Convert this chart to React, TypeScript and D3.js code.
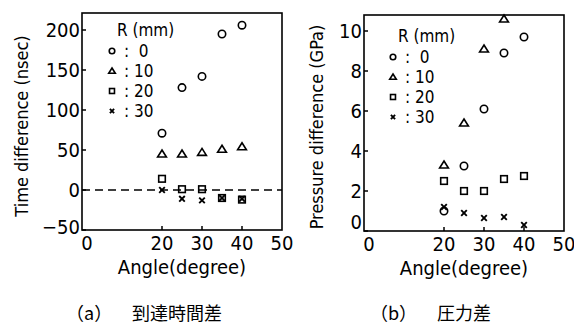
import * as d3 from "d3";

const angles = [20, 25, 30, 35, 40];
const xTicks = [0, 20, 30, 40, 50];

const timeR0 = [71, 128, 142, 195, 206];
const timeR10 = [45, 45, 47, 51, 54];
const timeR20 = [14, 1, 1, -10, -12];
const timeR30 = [0, -11, -13, -10, -11];
const timeTicks = [-50, 0, 50, 100, 150, 200];

const pressR0 = [1.0, 3.25, 6.1, 8.9, 9.7];
const pressR10 = [3.3, 5.4, 9.1, 10.6];
const pressR20 = [2.5, 2.0, 2.0, 2.6, 2.75];
const pressR30 = [1.2, 0.9, 0.65, 0.7, 0.3];
const pressTicks = [0, 2, 4, 6, 8, 10];

const radii = ["0", "10", "20", "30"];
const shapes = ["circle", "triangle", "square", "cross"] as const;

const FONT = "'DejaVu Sans Condensed', 'DejaVu Sans', sans-serif";

type Shape = (typeof shapes)[number];

function Marker({ shape, x, y, s = 1 }: { shape: Shape; x: number; y: number; s?: number }) {
  const common = { fill: "none", stroke: "#000", strokeWidth: 1.6 };
  if (shape === "circle") return <circle cx={x} cy={y} r={3.7 * s} {...common} />;
  if (shape === "triangle") {
    const h = 4 * s;
    return <path d={`M${x},${y - h}L${x + h * 1.1},${y + h * 0.75}L${x - h * 1.1},${y + h * 0.75}Z`} {...common} />;
  }
  if (shape === "square") {
    const h = 3.3 * s;
    return <rect x={x - h} y={y - h} width={2 * h} height={2 * h} {...common} />;
  }
  const h = 2.8 * s;
  return <path d={`M${x - h},${y - h}L${x + h},${y + h}M${x + h},${y - h}L${x - h},${y + h}`} {...common} strokeWidth={1.9} />;
}

interface PanelProps {
  left: number;
  right: number;
  top: number;
  bottom: number;
  yDomain: [number, number];
  pxPerUnit: number;
  yTicks: number[];
  series: number[][];
  title: string;
  titleX: number;
  titleY: number;
  legendX: number;
  legendY: number;
  zeroLine?: boolean;
  bottomLabelShift: number;
}

function Panel(p: PanelProps) {
  const x = d3.scaleLinear().domain([0, 50]).range([p.left, p.right]);
  const y = d3
    .scaleLinear()
    .domain(p.yDomain)
    .range([p.bottom, p.bottom - (p.yDomain[1] - p.yDomain[0]) * p.pxPerUnit]);
  return (
    <g fontFamily={FONT} fill="#000">
      <rect x={p.left} y={p.top} width={p.right - p.left} height={p.bottom - p.top} fill="none" stroke="#000" strokeWidth={1.6} />
      {p.yTicks.map((t, i) => (
        <g key={t}>
          <line x1={p.left} x2={p.left + 4} y1={y(t)} y2={y(t)} stroke="#000" strokeWidth={1.5} />
          <text
            x={p.left - 2}
            y={y(t) - (i === 0 ? p.bottomLabelShift : 0)}
            textAnchor="end"
            dominantBaseline="central"
            fontSize={20}
          >
            {t < 0 ? "\u2212" + Math.abs(t) : t}
          </text>
        </g>
      ))}
      {xTicks.map((t) => (
        <g key={t}>
          {t > 0 && t < 50 && <line x1={x(t)} x2={x(t)} y1={p.bottom} y2={p.bottom - 4} stroke="#000" strokeWidth={1.5} />}
          <text x={x(t) + (t === 0 ? 5 : 0)} y={p.bottom + 20} textAnchor="middle" fontSize={20}>
            {t}
          </text>
        </g>
      ))}
      {p.zeroLine && (
        <line x1={p.left} x2={p.right} y1={y(0)} y2={y(0)} stroke="#000" strokeWidth={1.5} strokeDasharray="8,5" />
      )}
      {p.series.map((vals, si) =>
        vals.map((v, i) => <Marker key={`${si}-${i}`} shape={shapes[si]} x={x(angles[i])} y={y(v)} />),
      )}
      <text x={(p.left + p.right) / 2} y={p.bottom + 44} textAnchor="middle" fontSize={20}>
        Angle(degree)
      </text>
      <text
        transform={`translate(${p.titleX},${p.titleY}) rotate(-90)`}
        textAnchor="middle"
        dominantBaseline="central"
        fontSize={18}
      >
        {p.title}
      </text>
      <text x={p.legendX + 5} y={p.legendY} dominantBaseline="central" fontSize={17}>
        R (mm)
      </text>
      {radii.map((r, i) => {
        const ly = p.legendY + 21 + i * 20;
        return (
          <g key={r}>
            <Marker shape={shapes[i]} x={p.legendX} y={ly} s={0.75} />
            <text x={p.legendX + 12} y={ly} dominantBaseline="central" fontSize={17} style={{ whiteSpace: "pre" }}>
              {r.length === 1 ? `:  ${r}` : `: ${r}`}
            </text>
          </g>
        );
      })}
    </g>
  );
}

export default function App() {
  return (
    <svg width={574} height={327} style={{ position: "absolute", left: 0, top: 0, background: "#fff" }}>
      <Panel
        left={82}
        right={282}
        top={13}
        bottom={230}
        yDomain={[-50, 200]}
        pxPerUnit={0.8}
        yTicks={timeTicks}
        series={[timeR0, timeR10, timeR20, timeR30]}
        title="Time difference (nsec)"
        titleX={21}
        titleY={126}
        legendX={112}
        legendY={30}
        zeroLine
        bottomLabelShift={3}
      />
      <Panel
        left={364}
        right={564}
        top={15}
        bottom={231}
        yDomain={[0, 10]}
        pxPerUnit={20}
        yTicks={pressTicks}
        series={[pressR0, pressR10, pressR20, pressR30]}
        title="Pressure difference (GPa)"
        titleX={316}
        titleY={127}
        legendX={393}
        legendY={36}
        bottomLabelShift={9}
      />
      <g fontFamily="'Noto Sans CJK JP', serif" fontSize={18} fill="#000">
        <text x={66} y={320}>（a）</text>
        <text x={132} y={320}>到達時間差</text>
        <text x={370} y={320}>（b）</text>
        <text x={437} y={320}>圧力差</text>
      </g>
    </svg>
  );
}
